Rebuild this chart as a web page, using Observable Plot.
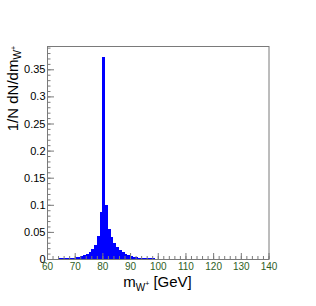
<!DOCTYPE html>
<html>
<head>
<meta charset="utf-8">
<script src="https://cdn.jsdelivr.net/npm/d3@7"></script>
<script src="https://cdn.jsdelivr.net/npm/@observablehq/plot@0.6"></script>
<style>
  html, body { margin: 0; padding: 0; background: #fff; }
  svg { display: block; }
</style>
</head>
<body>
<div id="chart"></div>
<script>
// Bin lower edges (1 GeV bins from 60 to 140 GeV)
const binLow = d3.range(60, 140);
const binWidth = 1;
// Normalised entries per bin
const binValues = [
  0.0006, 0.0007, 0.0008, 0.0009, 0.0010, 0.0012, 0.0014, 0.0017, 0.0021, 0.0026, // 60-69
  0.0032, 0.0040, 0.0050, 0.0068, 0.0090, 0.0135, 0.0180, 0.0260, 0.0420, 0.0870, // 70-79
  0.3730, 0.1000, 0.0550, 0.0400, 0.0290, 0.0215, 0.0165, 0.0123, 0.0092, 0.0068, // 80-89
  0.0052, 0.0040, 0.0032, 0.0026, 0.0021, 0.0017, 0.0014, 0.0012, 0.0010, 0.0009, // 90-99
  0.0008, 0.0007, 0.0006, 0.0006, 0.0005, 0.0005, 0.0004, 0.0004, 0.0004, 0.0003, // 100-109
  0.0003, 0.0003, 0.0003, 0.0003, 0.0002, 0.0002, 0.0002, 0.0002, 0.0002, 0.0002, // 110-119
  0.0002, 0.0002, 0.0002, 0.0001, 0.0001, 0.0001, 0.0001, 0.0001, 0.0001, 0.0001, // 120-129
  0.0001, 0.0001, 0.0001, 0.0001, 0.0001, 0.0001, 0.0001, 0.0001, 0.0001, 0.0001  // 130-139
];
const xMajorTicks = [60, 70, 80, 90, 100, 110, 120, 130, 140];
const xMinorTicks = d3.range(60, 141, 2);
const yMajorTicks = [0, 0.05, 0.1, 0.15, 0.2, 0.25, 0.3, 0.35];
const yMinorTicks = d3.range(0, 40).map(i => i / 100);

const bins = binLow.map((lo, i) => ({lo, hi: lo + binWidth, v: binValues[i]}));

const frameColor = "#7a7a7a";
const font = "'Liberation Sans', Arial, Helvetica, sans-serif";

const svg = Plot.plot({
  width: 316,
  height: 306,
  marginLeft: 47,
  marginRight: 47.5,
  marginTop: 46,
  marginBottom: 47,
  style: {fontFamily: font, background: "white"},
  x: {domain: [60, 140]},
  y: {domain: [0, 0.393]},
  marks: [
    Plot.rect(bins, {x1: "lo", x2: "hi", y1: () => 0, y2: "v", fill: "#0000ff", shapeRendering: "crispEdges"}),
    Plot.ruleY([0], {stroke: "#23239a", strokeWidth: 1}),
    Plot.frame({stroke: frameColor}),
    Plot.axisY(yMinorTicks, {tickSize: -3.5, fill: "none", stroke: frameColor, label: null}),
    Plot.axisY(yMajorTicks, {tickSize: -7, fill: "none", stroke: frameColor, label: null}),
    Plot.axisY(yMajorTicks, {tickSize: 0, tickPadding: 2, fill: "black", fontSize: 11, label: null,
      tickFormat: d => String(+d.toFixed(2))}),
    Plot.axisX(xMinorTicks, {tickSize: -3, fill: "none", stroke: frameColor, label: null}),
    Plot.axisX(xMajorTicks, {tickSize: -6, fill: "none", stroke: frameColor, label: null}),
    Plot.axisX(xMajorTicks, {tickSize: 0, tickPadding: 3, fill: "#2f5f1f", fontSize: 10, label: null,
      tickFormat: d => String(d)})
  ]
});

const s = d3.select(svg);
// x axis title: m_{W+} [GeV]
const xt = s.append("text")
  .attr("x", 157.5).attr("y", 287)
  .attr("text-anchor", "middle")
  .attr("font-family", font)
  .attr("font-size", 15)
  .attr("fill", "black");
xt.append("tspan").text("m");
xt.append("tspan").attr("dy", 4).attr("font-size", 10).text("W");
xt.append("tspan").attr("dy", -5).attr("font-size", 7).text("+");
xt.append("tspan").attr("dy", 1).text(" [GeV]");

// y axis title: 1/N dN/dm_{W+}
const yt = s.append("text")
  .attr("transform", "translate(18,46) rotate(-90)")
  .attr("text-anchor", "end")
  .attr("font-family", font)
  .attr("font-size", 15)
  .attr("fill", "black");
yt.append("tspan").text("1/N dN/dm");
yt.append("tspan").attr("dy", 3).attr("font-size", 10).text("W");
yt.append("tspan").attr("dy", -5).attr("font-size", 7).text("+");

document.getElementById("chart").appendChild(svg);
</script>
</body>
</html>
